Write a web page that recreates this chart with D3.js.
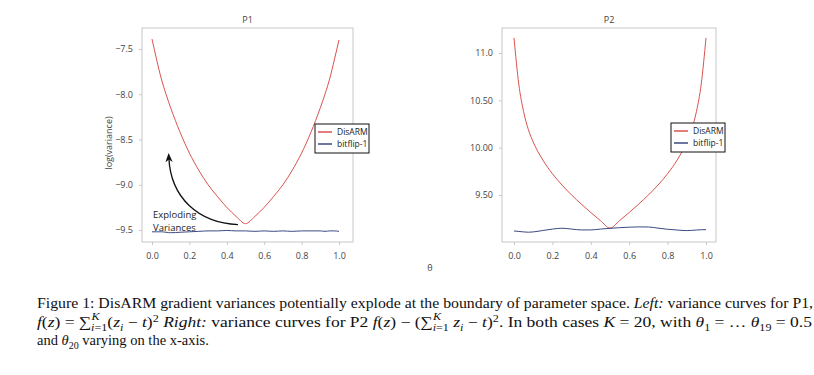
<!DOCTYPE html>
<html>
<head>
<meta charset="utf-8">
<script src="https://cdn.jsdelivr.net/npm/d3@7"></script>
<style>
  body { margin: 0; background: #fff; }
  svg { display: block; }
</style>
</head>
<body>
<div id="fig"></div>
<script>
// theta grid (x-axis), shared by both panels
const theta = [0, 0.025, 0.05, 0.075, 0.1, 0.15, 0.2, 0.25, 0.3, 0.35, 0.4, 0.45, 0.5,
  0.55, 0.6, 0.65, 0.7, 0.75, 0.8, 0.85, 0.9, 0.925, 0.95, 0.975, 1.0];

// P1: log(variance)
const p1Disarm = [-7.39, -7.62, -7.83, -8.00, -8.15, -8.42, -8.65, -8.84, -9.00, -9.13, -9.25, -9.35, -9.43,
  -9.35, -9.25, -9.13, -9.00, -8.84, -8.65, -8.42, -8.15, -8.00, -7.83, -7.62, -7.40];
const p1Bitflip = [-9.52, -9.52, -9.52, -9.525, -9.53, -9.525, -9.52, -9.515, -9.51, -9.51, -9.505, -9.51, -9.51,
  -9.515, -9.51, -9.515, -9.51, -9.515, -9.51, -9.51, -9.51, -9.515, -9.51, -9.51, -9.515];

// P2
const p2Disarm = [11.16, 10.67, 10.38, 10.19, 10.06, 9.87, 9.725, 9.605, 9.50, 9.405, 9.315, 9.23, 9.15,
  9.23, 9.315, 9.405, 9.50, 9.605, 9.725, 9.87, 10.06, 10.19, 10.38, 10.67, 11.16];
const p2Bitflip = [9.120, 9.115, 9.110, 9.107, 9.110, 9.125, 9.140, 9.149, 9.140, 9.131, 9.131, 9.140, 9.148,
  9.155, 9.160, 9.163, 9.162, 9.150, 9.138, 9.130, 9.124, 9.126, 9.130, 9.133, 9.134];

const xTicks = [0, 0.2, 0.4, 0.6, 0.8, 1.0];
const p1YTicks = [-7.5, -8.0, -8.5, -9.0, -9.5];
const p2YTicks = [11.0, 10.5, 10.0, 9.5];
const p2YTickLabels = ["11.0", "10.50", "10.00", "9.50"];
const seriesNames = ["DisARM", "bitflip-1"];
const seriesColors = ["#d9534f", "#3b4a82"];

const W = 814, H = 375;
const svg = d3.select("#fig").append("svg")
  .attr("width", W)
  .attr("height", H);

svg.append("defs").append("marker")
  .attr("id", "arrowhead")
  .attr("viewBox", "0 0 10 10")
  .attr("refX", 5)
  .attr("refY", 5)
  .attr("markerWidth", 7)
  .attr("markerHeight", 7)
  .attr("orient", "auto")
  .append("path")
  .attr("d", "M0,1 L10,5 L0,9 L3,5 Z")
  .attr("fill", "#111");

const tickFont = "'Open Sans', 'DejaVu Sans', sans-serif";

function drawPanel(cfg) {
  const g = svg.append("g").attr("class", "panel");
  const x = d3.scaleLinear().domain([0, 1]).range(cfg.xRange);
  const y = d3.scaleLinear().domain(cfg.yDomain).range(cfg.yRange);

  // frame
  g.append("rect")
    .attr("x", cfg.frame[0])
    .attr("y", cfg.frame[1])
    .attr("width", cfg.frame[2] - cfg.frame[0])
    .attr("height", cfg.frame[3] - cfg.frame[1])
    .attr("fill", "none")
    .attr("stroke", "#c8c8c8")
    .attr("stroke-width", 1);

  // x axis
  const xAxis = d3.axisBottom(x).tickValues(xTicks).tickFormat(d3.format(".1f"))
    .tickSize(3).tickPadding(8);
  const gx = g.append("g")
    .attr("transform", `translate(0,${cfg.frame[3]})`)
    .call(xAxis);
  gx.select(".domain").remove();
  gx.selectAll("line").attr("stroke", "#c8c8c8");
  gx.selectAll("text").attr("font-family", tickFont).attr("font-size", 9).attr("fill", "#444");

  // y axis
  const yAxis = d3.axisLeft(y).tickValues(cfg.yTicks)
    .tickFormat((d, i) => cfg.yLabels[i]).tickSize(3).tickPadding(6);
  const gy = g.append("g")
    .attr("transform", `translate(${cfg.frame[0]},0)`)
    .call(yAxis);
  gy.select(".domain").remove();
  gy.selectAll("line").attr("stroke", "#c8c8c8");
  gy.selectAll("text").attr("font-family", tickFont).attr("font-size", 9).attr("fill", "#444");

  // title
  g.append("text")
    .attr("x", (cfg.frame[0] + cfg.frame[2]) / 2)
    .attr("y", cfg.frame[1] - 5)
    .attr("text-anchor", "middle")
    .attr("font-family", tickFont)
    .attr("font-size", 9)
    .attr("fill", "#444")
    .text(cfg.title);

  const line = d3.line()
    .x((d, i) => x(theta[i]))
    .y(d => y(d))
    .curve(d3.curveMonotoneX);

  cfg.series.forEach((s, k) => {
    g.append("path")
      .attr("d", line(s))
      .attr("fill", "none")
      .attr("stroke", seriesColors[k])
      .attr("stroke-width", 1);
  });

  // legend
  const lg = g.append("g").attr("transform", `translate(${cfg.legend[0]},${cfg.legend[1]})`);
  lg.append("rect")
    .attr("width", 54)
    .attr("height", 29)
    .attr("fill", "#fff")
    .attr("stroke", "#111")
    .attr("stroke-width", 1);
  seriesNames.forEach((name, k) => {
    const ly = 8 + k * 12;
    lg.append("line")
      .attr("x1", 3).attr("x2", 17)
      .attr("y1", ly).attr("y2", ly)
      .attr("stroke", seriesColors[k])
      .attr("stroke-width", 1.5);
    lg.append("text")
      .attr("x", 22)
      .attr("y", ly + 3)
      .attr("font-family", tickFont)
      .attr("font-size", 8.5)
      .attr("fill", "#222")
      .text(name);
  });

  return { g, x, y };
}

const left = drawPanel({
  title: "P1",
  frame: [142, 28, 353, 242],
  xRange: [152, 339],
  yDomain: [-7.5, -9.5],
  yRange: [49, 230],
  yTicks: p1YTicks,
  yLabels: p1YTicks.map(d3.format(".1f")),
  series: [p1Disarm, p1Bitflip],
  legend: [315, 124]
});

const right = drawPanel({
  title: "P2",
  frame: [502, 28, 716, 242],
  xRange: [514, 706],
  yDomain: [11.0, 9.5],
  yRange: [53, 195],
  yTicks: p2YTicks,
  yLabels: p2YTickLabels,
  series: [p2Disarm, p2Bitflip],
  legend: [671, 123]
});

// y label
svg.append("text")
  .attr("transform", "translate(112,143) rotate(-90)")
  .attr("text-anchor", "middle")
  .attr("font-family", tickFont)
  .attr("font-size", 9)
  .attr("fill", "#444")
  .text("log(variance)");

// x label
svg.append("text")
  .attr("x", 430)
  .attr("y", 271)
  .attr("text-anchor", "middle")
  .attr("font-family", tickFont)
  .attr("font-size", 9)
  .attr("fill", "#444")
  .text("θ");

// annotation on P1
const ax = left.x, ay = left.y;
svg.append("path")
  .attr("d", `M${ax(0.46)},${ay(-9.44)} C${ax(0.25)},${ay(-9.42)} ${ax(0.10)},${ay(-9.15)} ${ax(0.09)},${ay(-8.70)}`)
  .attr("fill", "none")
  .attr("stroke", "#111")
  .attr("stroke-width", 1.3)
  .attr("marker-end", "url(#arrowhead)");

const annFont = { family: tickFont, size: 9.5 };
svg.append("text")
  .attr("x", 153).attr("y", 218)
  .attr("font-family", annFont.family)
  .attr("font-size", annFont.size)
  .attr("fill", "#222")
  .text("Exploding");
svg.append("text")
  .attr("x", 153).attr("y", 231)
  .attr("font-family", annFont.family)
  .attr("font-size", annFont.size)
  .attr("fill", "#222")
  .text("Variances");

// caption with simple math via tspans
function rich(sel, segs) {
  let cur = 0;
  segs.forEach(s => {
    const shift = s.shift || 0;
    const t = sel.append("tspan").text(s.t);
    if (shift !== cur) t.attr("dy", shift - cur);
    if (s.dx) t.attr("dx", s.dx);
    if (s.it) t.attr("font-style", "italic");
    if (s.size) t.attr("font-size", s.size);
    cur = shift;
  });
}

const capFont = "'Liberation Serif', 'Times New Roman', serif";
const SUP = -5, SUB = 4, SM = 10;

const cap1 = svg.append("text")
  .attr("x", 37).attr("y", 308)
  .attr("font-family", capFont).attr("font-size", 14.5).attr("fill", "#111")
  .attr("textLength", 776).attr("lengthAdjust", "spacingAndGlyphs");
rich(cap1, [
  { t: "Figure 1: DisARM gradient variances potentially explode at the boundary of parameter space. " },
  { t: "Left:", it: true },
  { t: " variance curves for P1," }
]);

const cap2 = svg.append("text")
  .attr("x", 37).attr("y", 327)
  .attr("font-family", capFont).attr("font-size", 14.5).attr("fill", "#111")
  .attr("textLength", 775).attr("lengthAdjust", "spacingAndGlyphs");
rich(cap2, [
  { t: "f", it: true }, { t: "(" }, { t: "z", it: true }, { t: ") = ∑" },
  { t: "K", it: true, size: SM, shift: SUP - 2 },
  { t: "i", it: true, size: SM, shift: SUB, dx: -7 }, { t: "=1", size: SM, shift: SUB },
  { t: "(" }, { t: "z", it: true }, { t: "i", it: true, size: SM, shift: SUB },
  { t: " − " }, { t: "t", it: true }, { t: ")" }, { t: "2", size: SM, shift: SUP },
  { t: " " }, { t: "Right:", it: true }, { t: " variance curves for P2 " },
  { t: "f", it: true }, { t: "(" }, { t: "z", it: true }, { t: ") − (∑" },
  { t: "K", it: true, size: SM, shift: SUP - 2 },
  { t: "i", it: true, size: SM, shift: SUB, dx: -7 }, { t: "=1", size: SM, shift: SUB },
  { t: " " }, { t: "z", it: true }, { t: "i", it: true, size: SM, shift: SUB },
  { t: " − " }, { t: "t", it: true }, { t: ")" }, { t: "2", size: SM, shift: SUP },
  { t: ". In both cases " }, { t: "K", it: true }, { t: " = 20, with " },
  { t: "θ", it: true }, { t: "1", size: SM, shift: SUB }, { t: " = … " },
  { t: "θ", it: true }, { t: "19", size: SM, shift: SUB }, { t: " = 0.5" }
]);

const cap3 = svg.append("text")
  .attr("x", 37).attr("y", 345)
  .attr("font-family", capFont).attr("font-size", 14.5).attr("fill", "#111");
rich(cap3, [
  { t: "and " }, { t: "θ", it: true }, { t: "20", size: SM, shift: SUB },
  { t: " varying on the x-axis." }
]);
</script>
</body>
</html>
